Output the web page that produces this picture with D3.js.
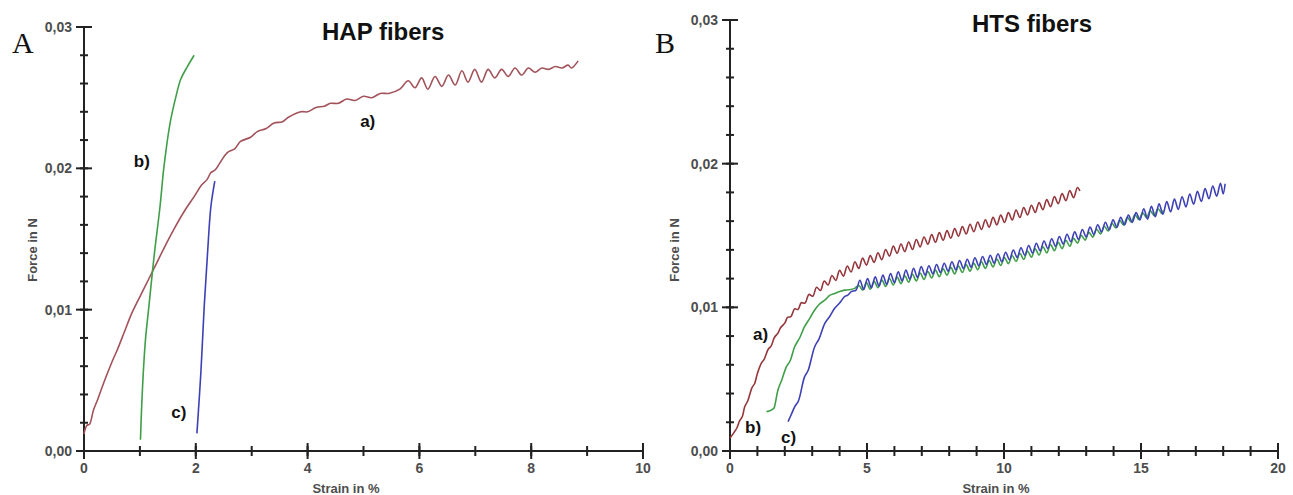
<!DOCTYPE html>
<html><head><meta charset="utf-8">
<script src="https://cdn.jsdelivr.net/npm/d3@7"></script>
<style>body{margin:0;background:#fff}svg{display:block}text{font-family:"Liberation Sans",Arial,sans-serif}</style>
</head><body><svg id="c" width="1293" height="495"></svg>
<script>
// ---- data (strain in %, force in N) ----
const forceTicks = [0, 0.01, 0.02, 0.03];
const hapStrainTicks = [0, 2, 4, 6, 8, 10];
const htsStrainTicks = [0, 5, 10, 15, 20];

const hapA = [[0.00,0.0012],[0.05,0.0018],[0.10,0.0019],[0.17,0.0029],[0.25,0.0037],[0.36,0.0049],[0.50,0.0063],[0.60,0.0072],[0.72,0.0084],[0.85,0.0097],[1.01,0.0110],[1.15,0.0121],[1.30,0.0133],[1.45,0.0145],[1.61,0.0157],[1.80,0.0170],[1.97,0.0180],[2.10,0.0188],[2.20,0.0192],[2.27,0.0197],[2.35,0.0199],[2.45,0.0205],[2.56,0.0211],[2.70,0.0214],[2.80,0.0219],[2.98,0.0222],[3.10,0.0226],[3.25,0.0228],[3.40,0.0232],[3.55,0.0233],[3.65,0.0236],[3.88,0.0240],[4.00,0.0240],[4.15,0.0243],[4.30,0.0244],[4.41,0.0246],[4.55,0.0246],[4.70,0.0249],[4.85,0.0248],[5.00,0.0251],[5.15,0.0250],[5.30,0.0253],[5.45,0.0253],[5.65,0.0256],[5.80,0.0262],[5.92,0.0257],[6.04,0.0264],[6.15,0.0256],[6.28,0.0265],[6.40,0.0258],[6.52,0.0266],[6.64,0.0259],[6.76,0.0269],[6.87,0.0261],[6.99,0.0270],[7.11,0.0261],[7.23,0.0270],[7.35,0.0264],[7.47,0.0270],[7.59,0.0265],[7.71,0.0271],[7.83,0.0266],[7.95,0.0271],[8.07,0.0268],[8.19,0.0271],[8.31,0.0270],[8.43,0.0272],[8.55,0.0271],[8.66,0.0273],[8.72,0.0271],[8.84,0.0276]];
const hapB = [[1.01,0.0008],[1.03,0.0030],[1.06,0.0055],[1.10,0.0079],[1.16,0.0102],[1.26,0.0140],[1.36,0.0173],[1.43,0.0201],[1.54,0.0232],[1.64,0.0250],[1.73,0.0263],[1.85,0.0272],[1.97,0.0280]];
const hapC = [[2.02,0.00125],[2.09,0.0055],[2.15,0.0102],[2.21,0.0140],[2.27,0.0173],[2.34,0.0191]];

const htsA = [[0.00,0.00090],[0.15,0.00130],[0.25,0.00160],[0.35,0.00210],[0.45,0.00240],[0.54,0.00310],[0.65,0.00350],[0.80,0.00440],[0.90,0.00470],[1.00,0.00540],[1.14,0.00610],[1.25,0.00640],[1.40,0.00710],[1.50,0.00730],[1.62,0.00790],[1.75,0.00820],[1.85,0.00860],[2.00,0.00890],[2.10,0.00930],[2.22,0.00935],[2.36,0.00990],[2.48,0.00985],
[2.60,0.01032],[2.74,0.01030],[2.88,0.01090],[3.02,0.01077],[3.16,0.01140],[3.30,0.01117],[3.44,0.01183],[3.58,0.01156],[3.72,0.01222],[3.86,0.01187],[4.00,0.01257],[4.14,0.01217],[4.28,0.01288],[4.42,0.01246],[4.56,0.01317],[4.70,0.01271],[4.84,0.01343],[4.98,0.01294],[5.12,0.01360],[5.26,0.01313],[5.40,0.01380],[5.54,0.01331],[5.68,0.01403],[5.82,0.01356],[5.96,0.01426],[6.10,0.01376],[6.24,0.01441],[6.38,0.01388],[6.52,0.01455],[6.66,0.01403],[6.80,0.01472],[6.94,0.01421],[7.08,0.01490],[7.22,0.01439],[7.36,0.01506],[7.50,0.01453],[7.64,0.01520],[7.78,0.01467],[7.92,0.01534],[8.06,0.01481],[8.20,0.01548],[8.34,0.01495],[8.48,0.01562],[8.62,0.01510],[8.76,0.01578],[8.90,0.01526],[9.04,0.01594],[9.18,0.01542],[9.32,0.01610],[9.46,0.01558],[9.60,0.01626],[9.74,0.01574],[9.88,0.01642],[10.02,0.01591],[10.16,0.01659],[10.30,0.01608],[10.44,0.01677],[10.58,0.01625],[10.72,0.01694],[10.86,0.01643],[11.00,0.01711],[11.14,0.01660],[11.28,0.01729],[11.42,0.01679],[11.56,0.01750],[11.70,0.01700],[11.84,0.01771],[11.98,0.01721],[12.12,0.01792],[12.26,0.01742],[12.40,0.01813],[12.54,0.01763],[12.68,0.01834],[12.77,0.01810]];

const htsB = [[1.33,0.00274],[1.45,0.00280],[1.60,0.00297],[1.65,0.00330],[1.75,0.00425],[1.90,0.00500],[2.06,0.00587],[2.20,0.00630],[2.36,0.00726],[2.55,0.00790],[2.72,0.00865],[2.90,0.00920],[3.09,0.00981],[3.25,0.01020],[3.46,0.01050],[3.65,0.01085],[3.82,0.01097],[4.00,0.01110],[4.18,0.01120],[4.35,0.01122],[4.55,0.01132],
[4.70,0.01152],[4.84,0.01120],[4.98,0.01172],[5.12,0.01126],[5.26,0.01181],[5.40,0.01136],[5.54,0.01191],[5.68,0.01146],[5.82,0.01201],[5.96,0.01155],[6.10,0.01210],[6.24,0.01165],[6.38,0.01220],[6.52,0.01175],[6.66,0.01230],[6.80,0.01184],[6.94,0.01239],[7.08,0.01194],[7.22,0.01249],[7.36,0.01204],[7.50,0.01259],[7.64,0.01213],[7.78,0.01268],[7.92,0.01223],[8.06,0.01278],[8.20,0.01233],[8.34,0.01288],[8.48,0.01242],[8.62,0.01297],[8.76,0.01252],[8.90,0.01307],[9.04,0.01262],[9.18,0.01317],[9.32,0.01271],[9.46,0.01326],[9.60,0.01281],[9.74,0.01336],[9.88,0.01291],[10.02,0.01346],[10.16,0.01304],[10.30,0.01361],[10.44,0.01319],[10.58,0.01376],[10.72,0.01334],[10.86,0.01391],[11.00,0.01349],[11.14,0.01407],[11.28,0.01364],[11.42,0.01422],[11.56,0.01379],[11.70,0.01437],[11.84,0.01394],[11.98,0.01452],[12.12,0.01409],[12.26,0.01467],[12.40,0.01425],[12.54,0.01480],[12.68,0.01447],[12.82,0.01501],[12.96,0.01468],[13.10,0.01522],[13.24,0.01489],[13.38,0.01543],[13.52,0.01510],[13.66,0.01564],[13.80,0.01531],[13.94,0.01585],[14.08,0.01552],[14.22,0.01606],[14.36,0.01573],[14.50,0.01627],[14.64,0.01594],[14.78,0.01644],[14.92,0.01611],[15.06,0.01658],[15.20,0.01625],[15.34,0.01672],[15.48,0.01639],[15.62,0.01686],[15.76,0.01653],[15.81,0.01675]];

const htsC = [[2.12,0.00204],[2.25,0.00260],[2.36,0.00307],[2.50,0.00350],[2.72,0.00516],[2.85,0.00560],[3.09,0.00726],[3.25,0.00780],[3.46,0.00888],[3.65,0.00940],[3.82,0.00993],[4.00,0.01030],[4.18,0.01074],[4.30,0.01085],[4.43,0.01109],[4.60,0.01120],
[4.74,0.01188],[4.88,0.01124],[5.02,0.01200],[5.16,0.01136],[5.30,0.01212],[5.44,0.01148],[5.58,0.01224],[5.72,0.01160],[5.86,0.01236],[6.00,0.01172],[6.14,0.01248],[6.28,0.01184],[6.42,0.01260],[6.56,0.01196],[6.70,0.01272],[6.84,0.01208],[6.98,0.01284],[7.12,0.01224],[7.26,0.01289],[7.40,0.01233],[7.54,0.01298],[7.68,0.01243],[7.82,0.01307],[7.96,0.01252],[8.10,0.01317],[8.24,0.01261],[8.38,0.01326],[8.52,0.01271],[8.66,0.01335],[8.80,0.01280],[8.94,0.01345],[9.08,0.01289],[9.22,0.01354],[9.36,0.01299],[9.50,0.01363],[9.64,0.01308],[9.78,0.01373],[9.92,0.01317],[10.06,0.01383],[10.20,0.01331],[10.34,0.01399],[10.48,0.01347],[10.62,0.01415],[10.76,0.01363],[10.90,0.01430],[11.04,0.01378],[11.18,0.01446],[11.32,0.01394],[11.46,0.01462],[11.60,0.01410],[11.74,0.01477],[11.88,0.01425],[12.02,0.01493],[12.16,0.01441],[12.30,0.01509],[12.44,0.01457],[12.58,0.01525],[12.72,0.01473],[12.86,0.01542],[13.00,0.01490],[13.14,0.01558],[13.28,0.01507],[13.42,0.01575],[13.56,0.01524],[13.70,0.01592],[13.84,0.01540],[13.98,0.01609],[14.12,0.01557],[14.26,0.01626],[14.40,0.01574],[14.54,0.01642],[14.68,0.01591],[14.82,0.01659],[14.96,0.01608],[15.10,0.01686],[15.24,0.01614],[15.38,0.01703],[15.52,0.01631],[15.66,0.01720],[15.80,0.01648],[15.94,0.01736],[16.08,0.01665],[16.22,0.01753],[16.36,0.01682],[16.50,0.01770],[16.64,0.01699],[16.78,0.01789],[16.92,0.01718],[17.06,0.01807],[17.20,0.01737],[17.34,0.01826],[17.48,0.01756],[17.62,0.01845],[17.76,0.01774],[17.90,0.01864],[18.00,0.01790],[18.07,0.01860]];

// ---- layout / style ----
const RED = "#a2525a", RED2 = "#94363c", GREEN = "#3f9e48", BLUE = "#3d41b5";
const panels = [
  { letter:"A", letterX:12, letterY:53, title:"HAP fibers", titleX:322, titleY:40,
    xMax:10, xTicks:hapStrainTicks, xr:[84,643], yr:[451,27],
    xTitleX:346, yTitleX:37,
    series:[{d:hapA,c:RED},{d:hapB,c:GREEN},{d:hapC,c:BLUE}],
    notes:[{t:"b)",s:0.89,f:0.0201},{t:"c)",s:1.56,f:0.00234},{t:"a)",s:4.94,f:0.0229}] },
  { letter:"B", letterX:655, letterY:53, title:"HTS fibers", titleX:972, titleY:32,
    xMax:20, xTicks:htsStrainTicks, xr:[730,1278], yr:[451,20],
    xTitleX:996, yTitleX:679,
    series:[{d:htsA,c:RED2},{d:htsB,c:GREEN},{d:htsC,c:BLUE}],
    notes:[{t:"a)",s:0.84,f:0.00772},{t:"b)",s:0.55,f:0.00125},{t:"c)",s:1.86,f:0.00056}] }
];

const svg = d3.select("#c");
const fmtF = d => d3.format(".2f")(d).replace(".", ",");
const AX = "#222", LBL = "#4d4d4d";

panels.forEach(p => {
  const x = d3.scaleLinear().domain([0, p.xMax]).range(p.xr);
  const y = d3.scaleLinear().domain([0, 0.03]).range(p.yr);
  const g = svg.append("g");

  // y axis
  g.append("line").attr("x1", x(0)).attr("x2", x(0)).attr("y1", y(0)).attr("y2", y(0.03))
    .attr("stroke", AX).attr("stroke-width", 2);
  g.selectAll(".ym").data(y.ticks(15)).join("line")
    .attr("x1", x(0) - 4).attr("x2", x(0) + 4).attr("y1", d => y(d)).attr("y2", d => y(d))
    .attr("stroke", AX).attr("stroke-width", 2);
  g.selectAll(".yM").data(forceTicks).join("line")
    .attr("x1", x(0) - 8).attr("x2", x(0) + 8).attr("y1", d => y(d)).attr("y2", d => y(d))
    .attr("stroke", AX).attr("stroke-width", 2);
  g.selectAll(".yl").data(forceTicks).join("text")
    .attr("x", x(0) - 12).attr("y", d => y(d)).attr("dy", "0.35em").attr("text-anchor", "end")
    .attr("font-size", 14).attr("font-weight", "bold").attr("fill", LBL).text(fmtF);

  // x axis
  g.append("line").attr("x1", x(0)).attr("x2", x(p.xMax)).attr("y1", y(0)).attr("y2", y(0))
    .attr("stroke", AX).attr("stroke-width", 2);
  g.selectAll(".xm").data(x.ticks(p.xMax)).join("line")
    .attr("x1", d => x(d)).attr("x2", d => x(d)).attr("y1", y(0) - 5).attr("y2", y(0) + 5)
    .attr("stroke", AX).attr("stroke-width", 2);
  g.selectAll(".xM").data(p.xTicks).join("line")
    .attr("x1", d => x(d)).attr("x2", d => x(d)).attr("y1", y(0) - 8).attr("y2", y(0) + 8)
    .attr("stroke", AX).attr("stroke-width", 2);
  g.selectAll(".xl").data(p.xTicks).join("text")
    .attr("x", d => x(d)).attr("y", y(0) + 22).attr("text-anchor", "middle")
    .attr("font-size", 14).attr("font-weight", "bold").attr("fill", LBL).text(d => d);

  // axis titles
  g.append("text").attr("x", p.xTitleX).attr("y", 493).attr("text-anchor", "middle")
    .attr("font-size", 13).attr("font-weight", "bold").attr("fill", LBL).text("Strain in %");
  g.append("text").attr("transform", `translate(${p.yTitleX},250) rotate(-90)`).attr("text-anchor", "middle")
    .attr("font-size", 13).attr("font-weight", "bold").attr("fill", LBL).text("Force in N");

  // curves
  const line = d3.line().x(d => x(d[0])).y(d => y(d[1])).curve(d3.curveCatmullRom.alpha(0.5));
  p.series.forEach(s => {
    g.append("path").attr("d", line(s.d)).attr("fill", "none")
      .attr("stroke", s.c).attr("stroke-width", 1.6).attr("stroke-linejoin", "round");
  });

  // curve labels
  g.selectAll(".nt").data(p.notes).join("text")
    .attr("x", d => x(d.s)).attr("y", d => y(d.f))
    .attr("font-size", 17).attr("font-weight", "bold").attr("fill", "#111").text(d => d.t);

  // title and panel letter
  g.append("text").attr("x", p.titleX).attr("y", p.titleY)
    .attr("font-size", 24).attr("font-weight", "bold").attr("fill", "#111").text(p.title);
  g.append("text").attr("x", p.letterX).attr("y", p.letterY)
    .style("font-family", "'Liberation Serif','Times New Roman',serif")
    .attr("font-size", 30).attr("fill", "#111").text(p.letter);
});
</script>
</body></html>
